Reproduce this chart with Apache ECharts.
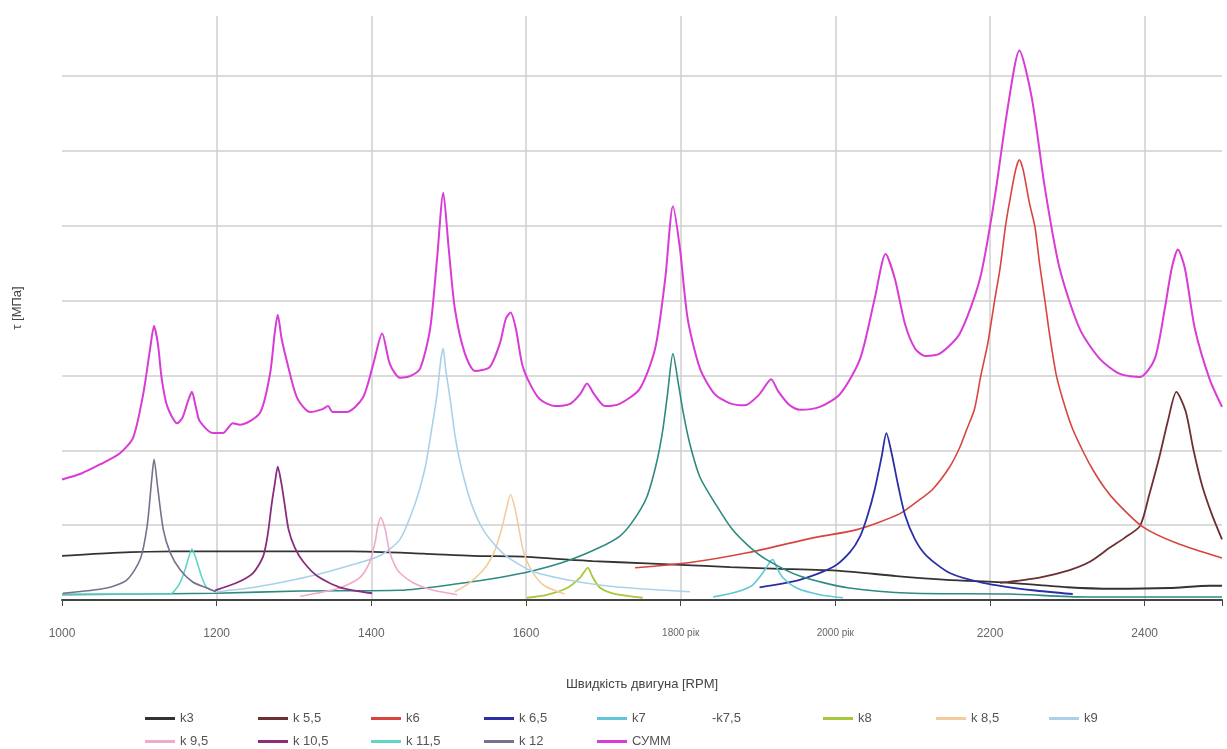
<!DOCTYPE html>
<html>
<head>
<meta charset="utf-8">
<script src="https://cdn.jsdelivr.net/npm/echarts@6/dist/echarts.min.js"></script>
<style>
  html, body { margin: 0; padding: 0; background: #fff; }
  #chart { width: 1227px; height: 749px; }
</style>
</head>
<body>
<div id="chart"></div>
<script>
// підписи осі X
var tickValues = [1000, 1200, 1400, 1600, 1800, 2000, 2200, 2400];
var tickLabels = ['1000', '1200', '1400', '1600', '1800 рік', '2000 рік', '2200', '2400'];

// [об/хв, напруження]
var k3 = [[1000,5.9],[1066,6.3],[1146,6.5],[1375,6.5],[1467,6.2],[1531,5.9],[1596,5.8],[1640,5.5],[1686,5.2],[1756,4.9],[1799,4.7],[1864,4.4],[1919,4.2],[2006,3.9],[2079,3.2],[2144,2.7],[2225,2.3],[2300,1.7],[2359,1.5],[2432,1.6],[2484,1.9],[2500,1.9]];
var k55 = [[2213,2.3],[2264,3.0],[2303,4.0],[2329,5.1],[2355,7.0],[2374,8.3],[2394,9.9],[2406,14.1],[2419,19.1],[2430,23.9],[2441,27.8],[2453,25.2],[2463,20.1],[2474,15.4],[2487,11.4],[2500,8.1]];
var k6 = [[1741,4.3],[1812,5.0],[1886,6.3],[1971,8.3],[2028,9.4],[2083,11.5],[2109,13.4],[2126,14.8],[2148,17.8],[2161,20.4],[2170,22.8],[2180,25.5],[2188,29.9],[2197,34.2],[2206,40.0],[2213,44.3],[2220,49.9],[2225,53.0],[2233,57.4],[2238,58.8],[2243,57.4],[2251,53.0],[2258,49.9],[2264,45.0],[2271,40.0],[2277,35.5],[2286,29.9],[2297,25.8],[2307,22.8],[2322,19.5],[2333,17.4],[2348,15.0],[2364,13.0],[2397,9.8],[2441,7.6],[2500,5.6]];
var k65 = [[1902,1.7],[1954,2.7],[1997,4.4],[2019,6.4],[2032,8.5],[2042,11.4],[2051,14.8],[2060,19.2],[2066,22.3],[2073,19.5],[2081,15.4],[2090,11.4],[2103,8.1],[2118,5.9],[2148,3.6],[2191,2.3],[2255,1.3],[2307,0.8]];
var k7 = [[1842,0.4],[1873,1.1],[1893,2.0],[1906,3.6],[1915,5.0],[1919,5.4],[1924,4.4],[1932,3.0],[1950,1.6],[1980,0.7],[2010,0.3]];
var k75 = [[1000,0.7],[1199,0.9],[1308,1.2],[1437,1.3],[1514,2.2],[1566,3.0],[1609,3.9],[1653,5.2],[1695,7.0],[1721,8.5],[1738,10.5],[1756,13.7],[1769,18.4],[1777,22.8],[1783,27.5],[1790,32.9],[1797,28.9],[1803,25.2],[1812,20.8],[1825,16.4],[1847,12.5],[1867,9.4],[1889,7.1],[1911,5.4],[1954,3.2],[2018,1.6],[2100,0.9],[2225,0.8],[2325,0.4],[2500,0.4]];
var k8 = [[1601,0.3],[1627,0.7],[1653,1.6],[1670,3.0],[1680,4.3],[1686,3.1],[1695,1.7],[1712,0.9],[1751,0.3]];
var k85 = [[1508,1.1],[1527,2.3],[1547,4.3],[1560,6.7],[1569,9.7],[1575,12.3],[1580,14.1],[1586,12.1],[1591,9.4],[1597,6.4],[1608,3.8],[1624,1.9],[1650,0.8]];
var k9 = [[1199,1.1],[1243,1.6],[1286,2.4],[1330,3.4],[1372,4.6],[1411,5.9],[1437,8.1],[1456,12.7],[1469,17.4],[1478,22.8],[1485,27.5],[1490,32.2],[1493,33.6],[1496,30.9],[1502,26.8],[1508,22.1],[1517,17.4],[1530,12.7],[1547,9.0],[1573,6.0],[1609,3.8],[1653,2.7],[1695,2.0],[1747,1.5],[1812,1.1]];
var k95 = [[1308,0.5],[1359,1.6],[1385,3.0],[1398,5.1],[1405,7.8],[1408,9.7],[1412,11.0],[1418,9.4],[1423,6.7],[1430,4.7],[1437,3.6],[1454,2.3],[1480,1.3],[1511,0.7]];
var k105 = [[1198,1.3],[1226,2.3],[1247,3.6],[1260,5.8],[1266,8.7],[1271,12.7],[1275,15.4],[1279,17.8],[1284,15.4],[1288,12.7],[1293,9.4],[1301,7.0],[1312,5.1],[1330,3.2],[1359,1.7],[1401,0.9]];
var k115 = [[1000,0.8],[1140,0.8],[1146,1.3],[1153,2.4],[1159,4.0],[1163,5.4],[1168,6.8],[1172,5.9],[1176,4.6],[1181,3.0],[1187,1.7],[1198,1.2]];
var k12 = [[1001,0.9],[1058,1.6],[1084,2.7],[1101,5.4],[1110,9.8],[1116,16.1],[1119,18.8],[1124,14.8],[1131,9.4],[1140,6.3],[1153,4.0],[1169,2.4],[1187,1.6],[1199,1.1]];
var summ = [[1000,16.1],[1025,16.9],[1049,18.1],[1075,19.6],[1092,21.7],[1105,27.5],[1114,33.6],[1119,36.6],[1124,34.2],[1129,29.5],[1136,25.9],[1149,23.6],[1156,24.4],[1163,26.6],[1168,27.8],[1173,25.8],[1178,23.9],[1195,22.3],[1208,22.3],[1221,23.6],[1230,23.4],[1256,25.0],[1269,30.2],[1275,35.6],[1279,38.1],[1284,34.9],[1291,31.8],[1304,27.0],[1321,25.1],[1337,25.5],[1344,25.9],[1350,25.1],[1368,25.1],[1389,27.0],[1402,31.3],[1414,35.6],[1424,31.5],[1437,29.7],[1450,29.9],[1463,30.9],[1476,36.2],[1485,45.6],[1493,54.4],[1500,47.0],[1508,38.9],[1521,32.9],[1534,30.6],[1553,31.1],[1566,34.2],[1574,37.6],[1580,38.4],[1587,36.2],[1595,31.5],[1605,28.9],[1618,26.8],[1637,25.9],[1657,26.2],[1670,27.5],[1679,28.9],[1688,27.5],[1702,25.9],[1721,26.2],[1747,28.2],[1767,33.6],[1780,42.9],[1790,52.6],[1799,47.0],[1809,37.6],[1825,30.9],[1844,27.5],[1863,26.3],[1883,26.0],[1902,27.5],[1917,29.5],[1926,27.9],[1941,26.0],[1954,25.4],[1980,25.8],[2006,27.5],[2032,32.2],[2051,40.3],[2065,46.2],[2077,42.9],[2090,36.9],[2103,33.6],[2116,32.6],[2135,32.9],[2161,35.6],[2187,42.9],[2206,53.7],[2223,65.8],[2238,73.4],[2254,67.1],[2271,55.0],[2290,44.3],[2316,36.2],[2342,32.2],[2368,30.2],[2394,29.8],[2413,32.2],[2426,38.9],[2435,44.3],[2443,46.8],[2452,44.3],[2465,36.2],[2484,29.5],[2500,25.8]];

var chart = echarts.init(document.getElementById('chart'));

function line(name, data, color, width) {
    return {
        name: name,
        type: 'line',
        data: data,
        smooth: 0.25,
        showSymbol: false,
        symbol: 'none',
        lineStyle: { color: color, width: width || 1.5 },
        itemStyle: { color: color }
    };
}

// легенда: кожен пункт на своєму місці в сітці 113 px
var legendRows = [
    ['k3', 'k 5,5', 'k6', 'k 6,5', 'k7', 'k7,5', 'k8', 'k 8,5', 'k9'],
    ['k 9,5', 'k 10,5', 'k 11,5', 'k 12', 'СУММ']
];
var legends = [];
legendRows.forEach(function (row, r) {
    row.forEach(function (name, c) {
        var item = {
            orient: 'horizontal',
            icon: 'rect',
            itemWidth: 30,
            itemHeight: 3,
            padding: 0,
            left: 145 + c * 113,
            top: 712 + r * 23,
            data: [name],
            textStyle: { color: '#555', fontSize: 13, fontFamily: 'Liberation Sans, Arial, sans-serif' }
        };
        if (name === 'k7,5') {
            // у оригіналі лінії немає, лише підпис
            item.left = 677;
            item.data = [{ name: name, itemStyle: { opacity: 0 }, lineStyle: { opacity: 0 } }];
            item.formatter = function () { return '-k7,5'; };
        }
        legends.push(item);
    });
});

var option = {
    animation: false,
    backgroundColor: '#fff',
    grid: { left: 62, right: 5, top: 16, bottom: 149 },
    xAxis: {
        type: 'value',
        min: 1000,
        max: 2500,
        interval: 200,
        name: 'Швидкість двигуна [RPM]',
        nameLocation: 'middle',
        nameGap: 78,
        nameTextStyle: { color: '#444', fontSize: 13, fontFamily: 'Liberation Sans, Arial, sans-serif' },
        axisLine: { show: true, lineStyle: { color: '#444', width: 2 } },
        axisTick: { show: true, length: 6, lineStyle: { color: '#444' } },
        axisLabel: {
            margin: 28,
            color: '#666',
            fontSize: 12,
            fontFamily: 'Liberation Sans, Arial, sans-serif',
            formatter: function (v) {
                var i = tickValues.indexOf(v);
                if (i < 0) return '';
                var t = tickLabels[i];
                return t.indexOf('рік') >= 0 ? '{s|' + t + '}' : t;
            },
            rich: { s: { fontSize: 10, color: '#666' } }
        },
        splitLine: { show: true, showMinLine: false, showMaxLine: false, lineStyle: { color: '#cfcfcf', width: 1.5 } }
    },
    yAxis: {
        type: 'value',
        min: 0,
        max: 78,
        interval: 10,
        name: 'τ [МПа]',
        nameLocation: 'middle',
        nameGap: 38,
        nameTextStyle: { color: '#444', fontSize: 13, fontFamily: 'Liberation Sans, Arial, sans-serif' },
        axisLine: { show: false },
        axisTick: { show: false },
        axisLabel: { show: false },
        splitLine: { show: true, showMaxLine: false, lineStyle: { color: '#cfcfcf', width: 1.5 } }
    },
    legend: legends,
    series: [
        line('k3', k3, '#333333', 1.8),
        line('k 5,5', k55, '#6e2f33', 1.8),
        line('k6', k6, '#d8453f', 1.6),
        line('k 6,5', k65, '#2b2fa6', 1.8),
        line('k7', k7, '#5fc7d6', 1.6),
        line('k7,5', k75, '#2f8a80', 1.6),
        line('k8', k8, '#a8c83c', 1.8),
        line('k 8,5', k85, '#f3cc9d', 1.6),
        line('k9', k9, '#a9d2ea', 1.6),
        line('k 9,5', k95, '#f1a9c9', 1.6),
        line('k 10,5', k105, '#8a2d7f', 1.8),
        line('k 11,5', k115, '#62d5c7', 1.6),
        line('k 12', k12, '#7b6f8f', 1.6),
        line('СУММ', summ, '#d93bd6', 2)
    ]
};

chart.setOption(option);
window.addEventListener('resize', function () {
    chart.resize();
});
</script>
</body>
</html>
